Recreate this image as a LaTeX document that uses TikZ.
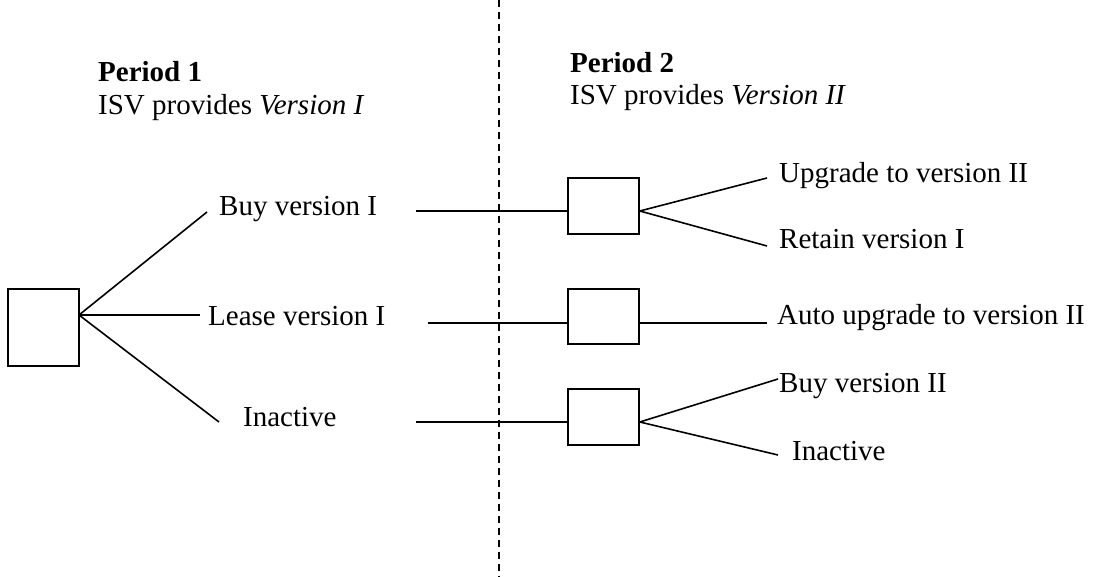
\documentclass[tikz,border=0pt]{standalone}
\usepackage{fontspec}
\setmainfont{Liberation Serif}
\begin{document}
\begin{tikzpicture}[x=1pt,y=-1pt,
  box/.style={draw,line width=1.6pt,rectangle,inner sep=0pt,minimum width=71pt,minimum height=56pt},
  lbl/.style={anchor=base west,inner sep=0pt,font=\fontsize{29}{34}\selectfont},
  conn/.style={line width=1.6pt},
  divider/.style={line width=1.6pt,dash pattern=on 7pt off 5pt}]
\useasboundingbox (0,0) rectangle (1093,577);
% divider
\coordinate (dtop) at (499,0);
\coordinate (dbot) at (499,577);
\draw[divider] (dtop) -- (dbot);
% headers
\node[lbl] (p1) at (98,82) {\textbf{Period 1}};
\node[lbl] (p1s) at (98,115) {ISV provides \textit{Version I}};
\node[lbl] (p2) at (570,73) {\textbf{Period 2}};
\node[lbl] (p2s) at (570,105) {ISV provides \textit{Version II}};
% left box
\node[box,minimum height=77pt] (b0) at (43.5,327.5) {};
\coordinate (f0) at (79,315);
\coordinate (e1) at (207,212);
\coordinate (e2) at (200,315);
\coordinate (e3) at (219,422);
\draw[conn] (f0) -- (e1);
\draw[conn] (f0) -- (e2);
\draw[conn] (f0) -- (e3);
\node[lbl] (buy1) at (219,216) {Buy version I};
\node[lbl] (lease1) at (208,326) {Lease version I};
\node[lbl] (inact1) at (243,426) {Inactive};
% right boxes
\node[box] (b1) at (603.5,206) {};
\node[box,minimum height=55pt] (b2) at (603.5,316.5) {};
\node[box] (b3) at (603.5,417) {};
\coordinate (in1) at (416,211);
\coordinate (in2) at (428,323);
\coordinate (in3) at (416,422);
\draw[conn] (in1) -- (in1 -| b1.west);
\draw[conn] (in2) -- (in2 -| b2.west);
\draw[conn] (in3) -- (in3 -| b3.west);
\coordinate (o1a) at (767,178);
\coordinate (o1b) at (767,246);
\coordinate (o2) at (767,323);
\coordinate (o3a) at (778,379);
\coordinate (o3b) at (778,455);
\draw[conn] (in1 -| b1.east) -- (o1a);
\draw[conn] (in1 -| b1.east) -- (o1b);
\draw[conn] (in2 -| b2.east) -- (o2);
\draw[conn] (in3 -| b3.east) -- (o3a);
\draw[conn] (in3 -| b3.east) -- (o3b);
\node[lbl] (up) at (779,183) {Upgrade to version II};
\node[lbl] (ret) at (779,249) {Retain version I};
\node[lbl] (auto) at (777,325) {Auto upgrade to version II};
\node[lbl] (buy2) at (779,392) {Buy version II};
\node[lbl] (inact2) at (792,460) {Inactive};
\end{tikzpicture}
\end{document}
